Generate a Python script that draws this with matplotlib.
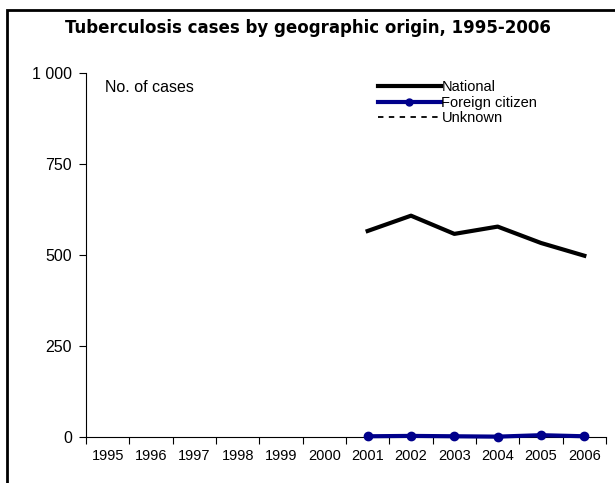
import matplotlib.pyplot as plt
from matplotlib.patches import Rectangle
from matplotlib.lines import Line2D
import numpy as np

years = [1995, 1996, 1997, 1998, 1999, 2000, 2001, 2002, 2003, 2004, 2005, 2006]
national = [None, None, None, None, None, None, 566, 608, 558, 578, 533, 498]
foreign = [None, None, None, None, None, None, 2, 3, 2, 1, 5, 2]
unknown = [None, None, None, None, None, None, 0, 0, 0, 0, 0, 0]
y_ticks = [0, 250, 500, 750, 1000]
y_tick_labels = ["0", "250", "500", "750", "1 000"]

plt.rcParams["font.family"] = ["Liberation Sans", "DejaVu Sans"]


def to_array(values):
    return np.array([np.nan if v is None else v for v in values], dtype=float)


fig = plt.figure(figsize=(6.15, 4.83), dpi=100)
ax = fig.add_axes([86 / 615, 46 / 483, 520 / 615, 364 / 483])

x = np.arange(len(years))
ax.plot(x, to_array(unknown), color="black", linewidth=1.3, linestyle=(0, (3, 3)),
        clip_on=False, zorder=3)
ax.plot(x, to_array(national), color="black", linewidth=3, clip_on=False, zorder=4)
ax.plot(x, to_array(foreign), color="#00008b", linewidth=3, marker="o",
        markersize=6, clip_on=False, zorder=5)

ax.set_xlim(-0.5, len(years) - 0.5)
ax.set_ylim(0, 1000)
ax.set_xticks(x)
ax.set_xticklabels([str(y) for y in years], fontsize=10.5)
ax.set_xticks(np.arange(-0.5, len(years)), minor=True)
ax.tick_params(axis="x", which="major", length=0, pad=9)
ax.tick_params(axis="x", which="minor", length=5, width=0.8, direction="out")
ax.set_yticks(y_ticks)
ax.set_yticklabels(y_tick_labels, fontsize=11.5)
ax.tick_params(axis="y", length=5, width=0.8, direction="out", pad=5)

for side in ("top", "right"):
    ax.spines[side].set_visible(False)
for side in ("left", "bottom"):
    ax.spines[side].set_linewidth(0.8)

fig.text(105 / 615, 1 - 87 / 483, "No. of cases", fontsize=11.5,
         va="center", ha="left")

handles = [
    Line2D([0], [0], color="black", linewidth=3),
    Line2D([0], [0], color="#00008b", linewidth=3, marker="o", markersize=5),
    Line2D([0], [0], color="black", linewidth=1.3, linestyle=(0, (3, 3))),
]
fig.legend(handles, ["National", "Foreign citizen", "Unknown"],
           loc="upper left", bbox_to_anchor=(378 / 615, 1 - 80 / 483),
           frameon=False, fontsize=10.5, handlelength=4.3, handletextpad=0.05,
           labelspacing=0.12, borderaxespad=0, borderpad=0)

fig.text(0.5, 1 - 28 / 483, "Tuberculosis cases by geographic origin, 1995-2006",
         ha="center", va="center", fontsize=12, fontweight="bold",
         family=["Liberation Sans Narrow", "DejaVu Sans"])

fig.patches.append(Rectangle((7 / 615, -0.1), 1.1, 1 - 10 / 483 + 0.1,
                             transform=fig.transFigure, fill=False,
                             linewidth=2, edgecolor="black"))

fig.savefig("out.png", dpi=100)
